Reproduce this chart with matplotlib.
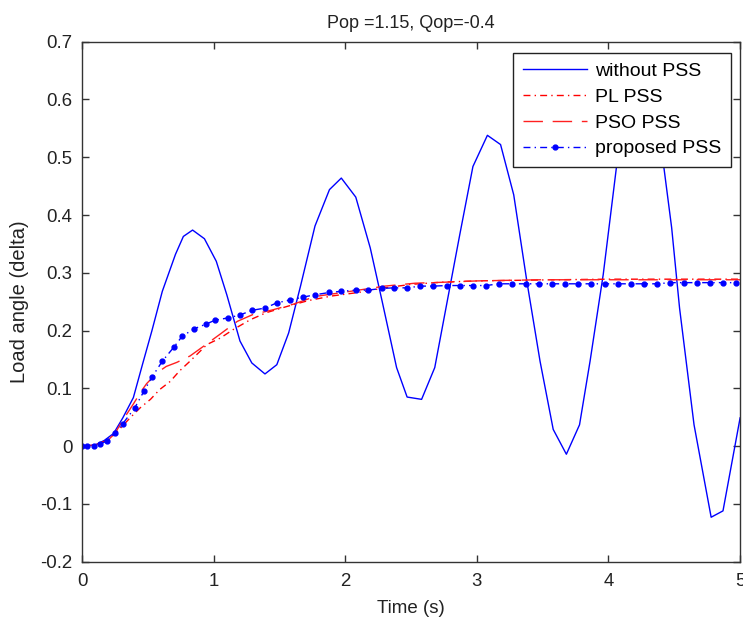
import numpy as np
from matplotlib import pyplot as plt
from matplotlib.ticker import FuncFormatter

# --- data ---
t_nopss = [0, 0.1, 0.17, 0.24, 0.31, 0.39, 0.46, 0.53, 0.61, 0.71, 0.77, 0.84, 0.93,
           1.02, 1.10, 1.20, 1.29, 1.39, 1.48, 1.57, 1.66, 1.77, 1.88, 1.97, 2.08,
           2.19, 2.28, 2.39, 2.47, 2.58, 2.68, 2.77, 2.87, 2.97, 3.08, 3.18, 3.28,
           3.38, 3.48, 3.58, 3.68, 3.78, 3.86, 3.96, 4.06, 4.14, 4.22, 4.32, 4.42,
           4.48, 4.54, 4.65, 4.78, 4.87, 5.0]
y_nopss = [0, 0.002, 0.010, 0.022, 0.049, 0.084, 0.142, 0.199, 0.268, 0.332, 0.363,
           0.374, 0.359, 0.320, 0.262, 0.182, 0.144, 0.125, 0.141, 0.196, 0.277,
           0.381, 0.444, 0.464, 0.431, 0.343, 0.251, 0.136, 0.085, 0.081, 0.136,
           0.245, 0.366, 0.484, 0.538, 0.522, 0.435, 0.285, 0.147, 0.029, -0.014,
           0.037, 0.147, 0.297, 0.482, 0.570, 0.610, 0.600, 0.484, 0.378, 0.239,
           0.037, -0.123, -0.112, 0.049]

t_pl = [0, 0.1, 0.2, 0.25, 0.30, 0.365, 0.44, 0.52, 0.59, 0.67, 0.74, 0.82, 0.95,
        1.05, 1.15, 1.28, 1.40, 1.56, 1.72, 1.9, 2.1, 2.3, 2.5, 2.75, 3.0, 3.3, 3.6,
        4.0, 4.4, 4.7, 5.0]
y_pl = [0, 0.002, 0.011, 0.021, 0.033, 0.049, 0.066, 0.081, 0.098, 0.112, 0.130,
        0.147, 0.176, 0.187, 0.202, 0.219, 0.231, 0.242, 0.252, 0.260, 0.266, 0.274,
        0.280, 0.284, 0.286, 0.287, 0.288, 0.289, 0.289, 0.289, 0.289]

t_pso = [0, 0.1, 0.2, 0.25, 0.31, 0.39, 0.45, 0.49, 0.57, 0.64, 0.72, 0.82, 0.93,
         1.05, 1.18, 1.30, 1.45, 1.61, 1.77, 1.95, 2.1, 2.3, 2.53, 2.78, 3.0, 3.23,
         3.5, 3.8, 4.1, 4.4, 4.7, 5.0]
y_pso = [0, 0.002, 0.011, 0.022, 0.045, 0.073, 0.095, 0.108, 0.127, 0.138, 0.145,
         0.156, 0.174, 0.194, 0.216, 0.228, 0.236, 0.246, 0.259, 0.265, 0.270, 0.277,
         0.282, 0.284, 0.286, 0.287, 0.288, 0.288, 0.288, 0.288, 0.288, 0.288]

t_prop = [0, 0.04, 0.09, 0.14, 0.19, 0.25, 0.31, 0.40, 0.47, 0.53, 0.61, 0.70, 0.76,
          0.85, 0.94, 1.01, 1.11, 1.20, 1.29, 1.39, 1.48, 1.58, 1.68, 1.77, 1.88,
          1.97, 2.08, 2.17, 2.28, 2.37, 2.47, 2.57, 2.67, 2.77, 2.87, 2.97, 3.07,
          3.17, 3.27, 3.37, 3.47, 3.57, 3.67, 3.77, 3.87, 3.97, 4.07, 4.17, 4.27,
          4.37, 4.47, 4.57, 4.67, 4.77, 4.87, 4.97]
y_prop = [0, 0, 0.001, 0.004, 0.009, 0.022, 0.039, 0.066, 0.095, 0.119, 0.147, 0.172,
          0.190, 0.203, 0.211, 0.218, 0.222, 0.227, 0.235, 0.239, 0.248, 0.253, 0.258,
          0.262, 0.266, 0.268, 0.270, 0.270, 0.273, 0.274, 0.274, 0.277, 0.277, 0.278,
          0.278, 0.278, 0.278, 0.281, 0.281, 0.281, 0.281, 0.281, 0.281, 0.281, 0.281,
          0.281, 0.281, 0.281, 0.281, 0.281, 0.283, 0.283, 0.283, 0.283, 0.283, 0.283]

labels = ["without PSS", "PL PSS", "PSO PSS", "proposed PSS"]

plt.rcParams["font.family"] = ["Liberation Sans", "DejaVu Sans"]
plt.rcParams["axes.unicode_minus"] = False

fig = plt.figure(figsize=(7.43, 6.17), dpi=100)
ax = fig.add_axes([0.1104, 0.0896, 0.8857, 0.8428])

dashdot = (5, 3, 1, 3)
ax.plot(t_nopss, y_nopss, color="#0000ff", lw=1.0, label=labels[0])
ax.plot(t_pl, y_pl, color="#ff0000", lw=1.0, dashes=dashdot, label=labels[1])
ax.plot(t_pso, y_pso, color="#ff2020", lw=1.0, dashes=(14, 7), label=labels[2])
ax.plot(t_prop, y_prop, color="#0000ff", lw=1.0, dashes=dashdot, marker="o",
        markersize=3.5, label=labels[3])

ax.set_xlim(0, 5)
ax.set_ylim(-0.2, 0.7)
ax.set_xticks([0, 1, 2, 3, 4, 5])
ax.set_yticks([-0.2, -0.1, 0, 0.1, 0.2, 0.3, 0.4, 0.5, 0.6, 0.7])
ax.yaxis.set_major_formatter(FuncFormatter(lambda v, p: "%g" % round(v, 2)))

edge = "#333333"
txt = "#222222"
for s in ax.spines.values():
    s.set_color(edge)
    s.set_linewidth(1.0)
ax.tick_params(direction="in", top=True, right=True, length=5, width=1,
               color=edge, labelcolor=txt, labelsize=13.4)
ax.tick_params(axis="y", pad=7)
ax.tick_params(axis="x", pad=8)

ax.set_title("Pop =1.15, Qop=-0.4", fontsize=13, color=txt, pad=10)
ax.set_xlabel("Time (s)", fontsize=13.5, color=txt, labelpad=7)
ax.set_ylabel("Load angle (delta)", fontsize=14.5, color=txt, labelpad=8)

leg = ax.legend(loc="upper right", bbox_to_anchor=(0.9838, 0.9146),
                bbox_transform=fig.transFigure, borderaxespad=0, fancybox=False,
                framealpha=1, edgecolor=txt, fontsize=14, handlelength=3.3,
                labelspacing=0.42, handletextpad=0.4, borderpad=0.5)
leg.get_frame().set_linewidth(1.0)

fig.savefig("out.png", dpi=100)
